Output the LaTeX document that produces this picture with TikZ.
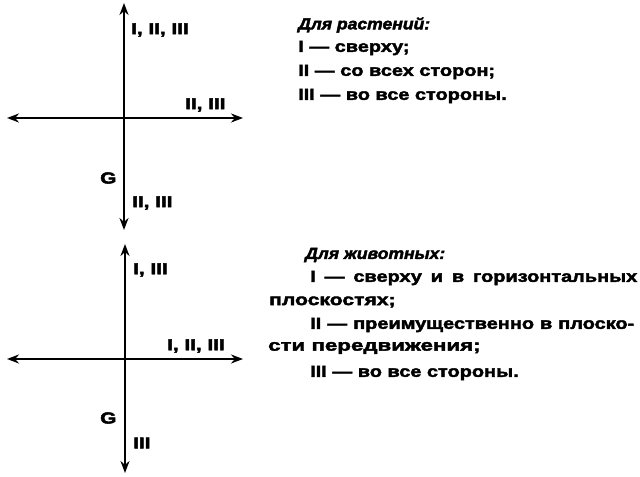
\documentclass[tikz,border=0pt]{standalone}
\usepackage{fontspec}
\usepackage{graphicx}
\setmainfont{Liberation Sans}
\newfontfamily\txtfont[FakeStretch=1.25,FakeBold=2.5]{Liberation Sans}
\newfontfamily\ttlfont[FakeStretch=1.1,FakeBold=2.5]{Liberation Sans}
\newfontfamily\labfont[FakeStretch=1.3,FakeBold=3]{Liberation Sans}
\usetikzlibrary{arrows.meta}
\tikzset{
  axis/.style={line width=2.8bp, {Stealth[length=12bp,width=9bp]}-{Stealth[length=12bp,width=9bp]}},
  lab/.style={font=\labfont\fontsize{16}{16}\selectfont\bfseries, inner sep=0pt, anchor=west},
  txt/.style={font=\txtfont\fontsize{16}{16}\selectfont\bfseries, inner sep=0pt, anchor=west},
  ttl/.style={font=\ttlfont\fontsize{16}{16}\selectfont\bfseries\itshape, inner sep=0pt, anchor=west},
}
\begin{document}
\begin{tikzpicture}[x=1bp,y=-1bp]
\useasboundingbox (0,0) rectangle (640,477);
% top cross
\coordinate (t1) at (124,3);
\coordinate (b1) at (124,230);
\coordinate (l1) at (7,118);
\coordinate (r1) at (243,118);
\draw[axis] (b1) -- (t1);
\draw[axis] (l1) -- (r1);
\node[lab] (a1) at (131,30) {I, II, III};
\node[lab] (a2) at (185,105) {II, III};
\node[lab] (g1) at (100,178) {G};
\node[lab] (a3) at (132,203) {II, III};
% bottom cross
\coordinate (t2) at (125,244);
\coordinate (b2) at (125,473);
\coordinate (l2) at (7,359);
\coordinate (r2) at (243,359);
\draw[axis] (b2) -- (t2);
\draw[axis] (l2) -- (r2);
\node[lab] (c1) at (133,270) {I, III};
\node[lab] (c2) at (167,346) {I, II, III};
\node[lab] (g2) at (100,418) {G};
\node[lab] (c3) at (133,443) {III};
% plant text
\node[ttl] (p0) at (298,25) {Для растений:};
\node[txt] (p1) at (298,48) {I — сверху;};
\node[txt] (p2) at (298,72) {II — со всех сторон;};
\node[txt] (p3) at (298,96) {III — во все стороны.};
% animal text
\node[ttl] (z0) at (305,255) {Для животных:};
\node[txt] (z1) at (310,278) {\makebox[327bp][s]{I — сверху и в горизонтальных}};
\node[txt] (z2) at (269,302) {\scalebox{1.06}[1]{плоскостях;}};
\node[txt] (z3) at (310,325) {\makebox[324bp][s]{II — преимущественно в плоско-}};
\node[txt] (z4) at (268,348) {\scalebox{1.12}[1]{сти передвижения;}};
\node[txt] (z5) at (310,373) {III — во все стороны.};
\end{tikzpicture}
\end{document}
